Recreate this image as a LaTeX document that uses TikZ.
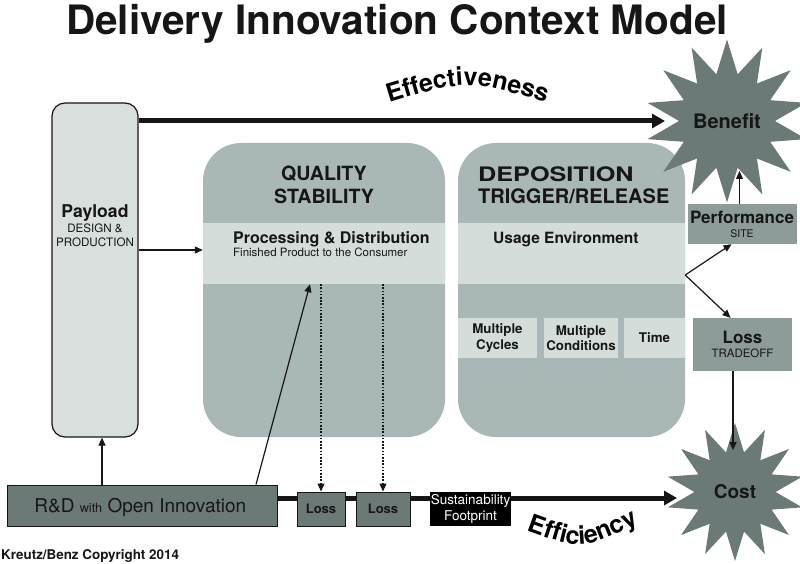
\documentclass[tikz,border=0pt]{standalone}
\usepackage{fontspec}
\setmainfont{TeX Gyre Heros}
\usepackage{xcolor}
\usepackage{tikz}
\usetikzlibrary{positioning,arrows.meta,shapes.geometric,decorations.text,backgrounds}
\definecolor{DIInk}{HTML}{161616}
\definecolor{DIPale}{HTML}{D8DFDD}
\definecolor{DIMid}{HTML}{A9B7B6}
\definecolor{DIBand}{HTML}{D5DDDB}
\definecolor{DISide}{HTML}{8D9B99}
\definecolor{DIDark}{HTML}{6B7977}
\newcommand{\DIsize}[1]{\fontsize{#1}{#1}\selectfont}
\newcommand{\DIcurve}{\fontsize{25}{25}\selectfont\bfseries}

\begin{document}
\begin{tikzpicture}[x=1pt,y=-1pt,
    txt/.style={inner sep=0pt,text=DIInk},
    tip/.style={-{Triangle[length=8pt,width=7pt]},line width=1.2pt,DIInk},
    bigtip/.style={-{Triangle[length=13pt,width=14pt]},line width=5pt,DIInk}]
    \useasboundingbox (0,0) rectangle (800,564);
    \node[txt,anchor=base,font=\DIsize{40.5}\bfseries] (title) at (397,35) {Delivery Innovation Context Model};

    % payload column
    \node[draw=DIInk,line width=1.2pt,fill=DIPale,rounded corners=13pt,minimum width=86pt,minimum height=334pt] (payload) at (95,270) {};
    \node[txt,anchor=base,font=\DIsize{17.6}\bfseries] (plname) at (95,218) {Payload};
    \node[txt,anchor=base,font=\DIsize{11.6}] (plsubA) at (95,232.7) {DESIGN \&};
    \node[txt,anchor=base,font=\DIsize{11.6}] (plsubB) at (95,246.7) {PRODUCTION};

    % the two big blocks
    \node[fill=DIMid,rounded corners=38pt,minimum width=242pt,minimum height=294pt] (quality) at (324,290) {};
    \node[fill=DIBand,minimum width=242pt,minimum height=61pt] (qband) at (324,253.5) {};
    \node[txt,anchor=base,font=\DIsize{19.6}\bfseries] (qtitleA) at (324,181) {QUALITY};
    \node[txt,anchor=base,font=\DIsize{19.6}\bfseries] (qtitleB) at (324,204) {STABILITY};
    \node[txt,anchor=base west,font=\DIsize{16}\bfseries] (proc) at (233,243) {Processing \& Distribution};
    \node[txt,anchor=base west,font=\DIsize{11.5}] (procsub) at (233,256) {Finished Product to the Consumer};

    \node[fill=DIMid,rounded corners=38pt,minimum width=227pt,minimum height=294pt] (depo) at (571.5,290) {};
    \node[fill=DIBand,minimum width=227pt,minimum height=61pt] (dband) at (571.5,253.5) {};
    \node[txt,anchor=base west,font=\DIsize{20}\bfseries\addfontfeature{FakeStretch=1.26}] (dtitleA) at (478,181.7) {DEPOSITION};
    \node[txt,anchor=base west,font=\DIsize{20}\bfseries] (dtitleB) at (478,204) {TRIGGER/RELEASE};
    \node[txt,anchor=base west,font=\DIsize{15.5}\bfseries] (usage) at (493,243) {Usage Environment};
    \foreach \n/\cx/\w/\t in {cycles/497.5/79/{Multiple\\Cycles},conds/581/74/{Multiple\\Conditions},time/654.5/61/{Time}} {
      \node[fill=DIBand,txt,align=center,minimum width=\w pt,minimum height=40pt,font=\fontsize{13.3}{15.7}\selectfont\bfseries] (\n) at (\cx,338) {\t};
    }

    % right hand side
    \node[fill=DISide,minimum width=109pt,minimum height=40pt] (perf) at (742.5,224) {};
    \node[txt,anchor=base,font=\DIsize{17}\bfseries] (perfname) at (742,223.3) {Performance};
    \node[txt,anchor=base,font=\DIsize{10.5}] (perfsub) at (742,237.3) {SITE};
    \node[fill=DISide,minimum width=99pt,minimum height=53pt] (tradeoff) at (742.5,344.5) {};
    \node[txt,anchor=base,font=\DIsize{17}\bfseries] (lossname) at (742.5,343.3) {Loss};
    \node[txt,anchor=base,font=\DIsize{11.5}] (losssub) at (742.5,357.3) {TRADEOFF};
    \node[star,star points=14,star point ratio=1.7,minimum size=134pt,inner sep=0pt,fill=DIDark,text=DIInk,font=\DIsize{20}\bfseries] (benefit) at (727,121) {Benefit};
    \node[star,star points=14,star point ratio=1.7,minimum size=138pt,inner sep=0pt,fill=DIDark,text=DIInk,font=\DIsize{19}\bfseries] (cost) at (735,492) {Cost};

    % bottom row
    \node[draw=DIInk,line width=1pt,fill=DIDark,minimum width=270pt,minimum height=41pt] (rd) at (142,505.5) {};
    \node[txt,anchor=base] (rdtxt) at (140.3,512.7) {\DIsize{19}R\&D {\DIsize{12.7}with} Open Innovation};
    \node[draw=DIInk,line width=1pt,fill=DIDark,txt,minimum width=48pt,minimum height=34pt,font=\DIsize{13}\bfseries] (lossA) at (321,509) {Loss};
    \node[draw=DIInk,line width=1pt,fill=DIDark,txt,minimum width=54pt,minimum height=34pt,font=\DIsize{13}\bfseries] (lossB) at (383,509) {Loss};
    \node[fill=black,inner sep=0pt,text=white,align=center,minimum width=81pt,minimum height=34pt,font=\fontsize{13.5}{15.7}\selectfont] (sust) at (470.5,509) {Sustainability\\Footprint};
    \node[txt,anchor=base west,font=\DIsize{13.4}\bfseries] (copy) at (1,559.3) {Kreutz/Benz Copyright 2014};

    % connectors
    \draw[bigtip,shorten >=62pt] (payload.east |- benefit.center) -- (benefit.center);
    \begin{scope}[on background layer]
      \draw[bigtip,shorten >=58pt] ([yshift=7.5pt]rd.east) -- ([yshift=7.5pt]rd.east -| cost.center);
    \end{scope}
    \draw[tip] ([yshift=20pt]payload.east) -- ([yshift=20pt]payload.east -| quality.west);
    \draw[tip] ([xshift=7pt]payload.south |- rd.north) -- ([xshift=7pt]payload.south);
    \draw[tip] ([xshift=114pt]rd.north) -- ([xshift=-14pt]qband.south);
    \foreach \l in {lossA,lossB}
      \draw[tip,dash pattern=on 1.6pt off 1.6pt] (\l.north |- qband.south) -- (\l.north);
    \coordinate (fork) at ([yshift=15pt]depo.east);
    \draw[tip] (fork) -- ([xshift=-11pt]perf.south);
    \draw[tip] (fork) -- ([xshift=-12pt]tradeoff.north);
    \draw[tip,shorten >=50pt] ([xshift=-3pt]perf.north) -- ([xshift=-3pt]perf.north |- benefit.center);
    \draw[tip,shorten >=42pt] ([xshift=-9.5pt]tradeoff.south) -- ([xshift=-9.5pt]tradeoff.south |- cost.center);

    % curved labels
    \path[decorate,decoration={text along path,text align=center,text={|\DIcurve|Effectiveness}}] (382,105) .. controls (467,79) .. (553,105);
    \path[decorate,decoration={text along path,text align=center,text={|\DIcurve|Efficiency}}] (520,528) .. controls (582,551) .. (645,520);
  \end{tikzpicture}
\end{document}
